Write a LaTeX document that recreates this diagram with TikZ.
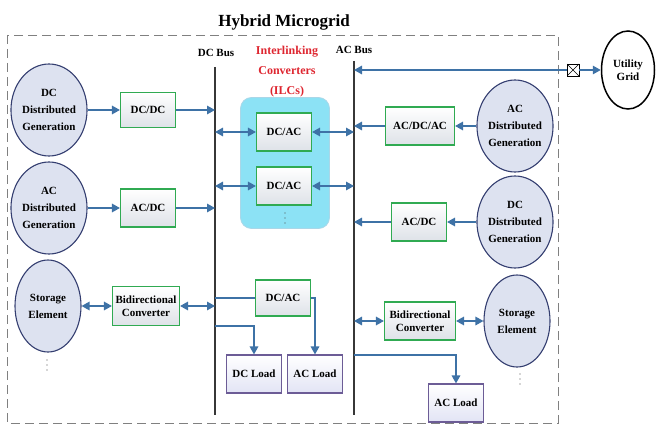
\documentclass[tikz,border=0pt]{standalone}
\usepackage{fontspec}
\setmainfont{Liberation Serif}
\usetikzlibrary{arrows.meta,shapes.geometric}

\definecolor{linkblue}{RGB}{62,114,166}
\definecolor{busgray}{RGB}{55,55,55}
\definecolor{srcedge}{RGB}{52,62,112}
\definecolor{srcfill}{RGB}{221,226,240}
\definecolor{convedge}{RGB}{48,170,82}
\definecolor{convfill}{RGB}{222,226,232}
\definecolor{loadedge}{RGB}{108,92,150}
\definecolor{loadfill}{RGB}{226,228,245}
\definecolor{ilccyan}{RGB}{140,226,245}
\definecolor{ilcedge}{RGB}{170,215,232}
\definecolor{ilcred}{RGB}{222,38,48}

\begin{document}
\begin{tikzpicture}[x=1pt,y=-1pt,
 every node/.style = {align=center, font=\bfseries\fontsize{11}{13}\selectfont},
 source/.style = {ellipse, draw=srcedge, line width=1.1pt, fill=srcfill,
   minimum width=66pt, minimum height=92pt, inner sep=0pt,
   font=\bfseries\fontsize{11}{17}\selectfont},
 conv/.style = {rectangle, draw=convedge, line width=1.1pt, top color=white,
   bottom color=convfill, minimum width=55pt, minimum height=38pt, inner sep=2pt},
 load/.style = {rectangle, draw=loadedge, line width=1.1pt, top color=white,
   bottom color=loadfill, minimum width=55pt, minimum height=38pt},
 flow/.style = {draw=linkblue, line width=1.6pt, -{Triangle[length=8pt,width=8.5pt]}},
 both/.style = {draw=linkblue, line width=1.6pt,
   {Triangle[length=8pt,width=8.5pt]}-{Triangle[length=8pt,width=8.5pt]}},
 feed/.style = {draw=linkblue, line width=1.6pt},
 bus/.style = {draw=busgray, line width=2pt}]
 \useasboundingbox (0,0) rectangle (656,425);

 % frame and title
 \draw[gray, line width=0.8pt, dash pattern=on 9pt off 5pt] (7,35) rectangle (558,423);
 \node (title) at (284,22) {\fontsize{17}{20}\selectfont Hybrid Microgrid};

 % buses
 \node (dclabel) at (216,53) {DC Bus};
 \node (aclabel) at (354,50) {AC Bus};
 \coordinate (dctop) at (215,67);
 \coordinate (dcbot) at (215,415);
 \coordinate (actop) at (354,61);
 \coordinate (acbot) at (354,415);
 \draw[bus] (dctop) -- (dcbot);
 \draw[bus] (actop) -- (acbot);

 % interlinking converters
 \node[rectangle, rounded corners=11pt, fill=ilccyan, draw=ilcedge, line width=0.8pt,
   minimum width=89pt, minimum height=131pt] (ilcbox) at (285,163) {};
 \node[text=ilcred, font=\bfseries\fontsize{12}{20}\selectfont] (ilctext) at (287,72)
   {Interlinking\\Converters\\(ILCs)};
 \node[conv] (ilc1) at (284,132) {DC/AC};
 \node[conv] (ilc2) at (284,186) {DC/AC};

 % DC side
 \node[source] (dcgen) at (49,110) {DC\\Distributed\\Generation};
 \node[source] (acgen) at (49,208) {AC\\Distributed\\Generation};
 \node[source] (store) at (48,306) {Storage\\Element};
 \node[conv, minimum height=35pt] (dcdc) at (148,110) {DC/DC};
 \node[conv] (acdc) at (148,208) {AC/DC};
 \node[conv, minimum width=67pt, minimum height=39pt] (bidl) at (146,306)
   {Bidirectional\\Converter};
 \node[conv, minimum height=36pt] (inv) at (283,298) {DC/AC};
 \node[load] (dcload) at (254,374) {DC Load};
 \node[load] (acload) at (315,374) {AC Load};

 % AC side
 \node[source] (acgenr) at (515,126) {AC\\Distributed\\Generation};
 \node[source] (dcgenr) at (515,222) {DC\\Distributed\\Generation};
 \node[source] (storer) at (517,321) {Storage\\Element};
 \node[conv, minimum width=69pt] (acdcac) at (420,126) {AC/DC/AC};
 \node[conv] (acdcr) at (419,222) {AC/DC};
 \node[conv, minimum width=71pt] (bidr) at (420,321) {Bidirectional\\Converter};
 \node[load] (acloadr) at (456,403) {AC Load};

 % "more" dots
 \foreach \dx/\dy in {47/360, 285/213, 520/374}
   \foreach \k in {0,5,10}
     \fill[black!70] (\dx,\dy+\k) circle (0.7pt);

 % utility grid
 \node[ellipse, draw, line width=1.5pt, fill=white, minimum width=53pt,
   minimum height=78pt, inner sep=0pt] (grid) at (628,70) {Utility\\Grid};
 \node[draw, fill=white, line width=0.7pt, minimum size=12pt, inner sep=0pt,
   path picture={\draw[line width=0.6pt]
     (path picture bounding box.north west) -- (path picture bounding box.south east)
     (path picture bounding box.north east) -- (path picture bounding box.south west);}]
   (brk) at (573,70) {};

 % connectors
 \draw[flow] (dcgen.east) -- (dcdc.west);
 \draw[flow] (dcdc.east) -- (dcdc -| dctop);
 \draw[flow] (acgen.east) -- (acdc.west);
 \draw[flow] (acdc.east) -- (acdc -| dctop);
 \draw[both] (store.east) -- (bidl.west);
 \draw[both] (bidl.east) -- (bidl -| dctop);

 \draw[both] (ilc1 -| dctop) -- (ilc1.west);
 \draw[both] (ilc1.east) -- (ilc1 -| actop);
 \draw[both] (ilc2 -| dctop) -- (ilc2.west);
 \draw[both] (ilc2.east) -- (ilc2 -| actop);

 \draw[feed] (inv -| dctop) -- (inv.west);
 \draw[flow] (inv.east) -| (acload.north);
 \coordinate (dctap) at (215,326);
 \draw[flow] (dctap) -| (dcload.north);

 \draw[flow] (acgenr.west) -- (acdcac.east);
 \draw[flow] (acdcac.west) -- (acdcac -| actop);
 \draw[flow] (dcgenr.west) -- (acdcr.east);
 \draw[flow] (acdcr.west) -- (acdcr -| actop);
 \draw[both] (bidr -| actop) -- (bidr.west);
 \draw[both] (bidr.east) -- (storer.west);
 \coordinate (actap) at (354,355);
 \draw[flow] (actap) -| (acloadr.north);

 \draw[flow] (brk.west) -- (brk -| actop);
 \draw[flow] (brk.east) -- (grid.west);
\end{tikzpicture}
\end{document}
